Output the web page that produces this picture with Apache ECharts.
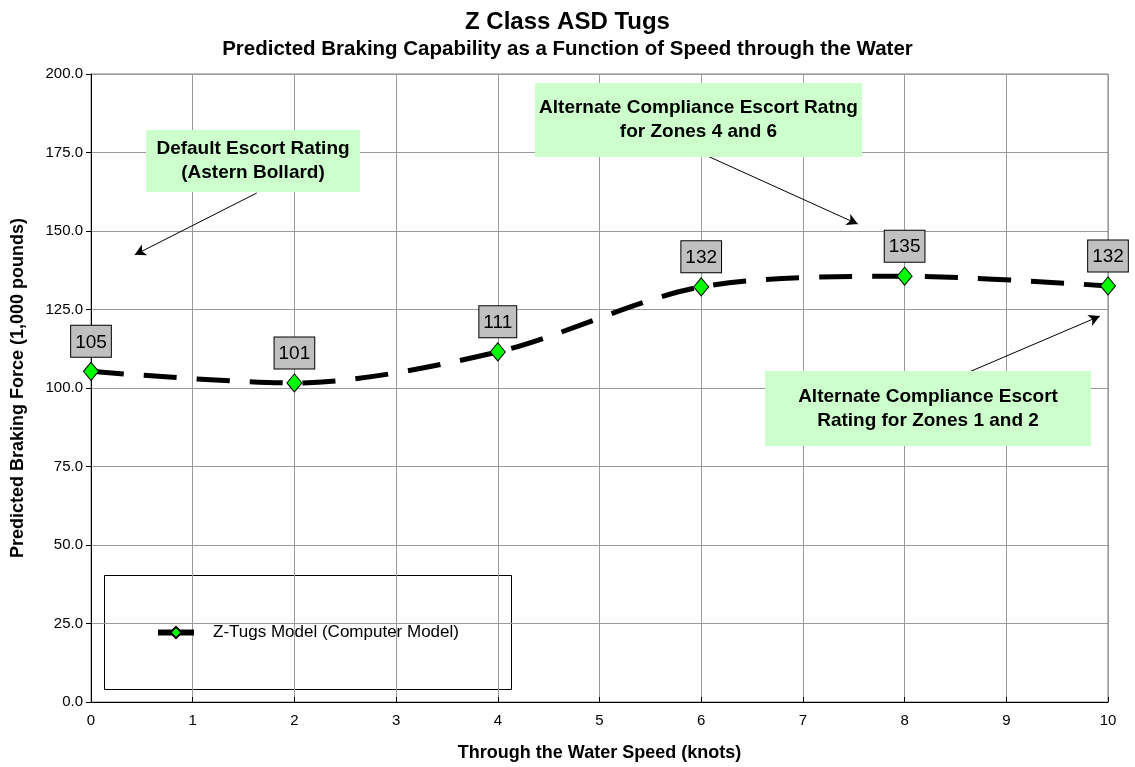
<!DOCTYPE html>
<html>
<head>
<meta charset="utf-8">
<script src="https://cdn.jsdelivr.net/npm/echarts@6/dist/echarts.min.js"></script>
<style>
  html, body { margin: 0; padding: 0; background: #fff; }
  #chart { width: 1135px; height: 767px; }
</style>
</head>
<body>
<div id="chart"></div>
<script>
// 数据
const speeds = [0, 2, 4, 6, 8, 10];
const brakingForce = [105.3, 101.6, 111.5, 132.2, 135.6, 132.5];
const pointLabels = ['105', '101', '111', '132', '135', '132'];
const yTicks = [0, 25, 50, 75, 100, 125, 150, 175, 200];
const seriesName = 'Z-Tugs Model (Computer Model)';

// 注释箭头 (数据坐标: 起点 -> 终点)
const arrows = [
    [[1.63, 162.1], [0.43, 142.4]],
    [[6.04, 174.2], [7.54, 152.2]],
    [[8.54, 103.8], [9.92, 122.9]]
];

const FONT = 'Liberation Sans, Arial, sans-serif';
const chart = echarts.init(document.getElementById('chart'));

// 绿色注释框
function noteBox(left, top, w, h, lines) {
    return {
        type: 'group',
        left: left, top: top, z: 100,
        children: [
            { type: 'rect', z: 100, shape: { x: 0, y: 0, width: w, height: h }, style: { fill: '#ccffcc' } },
            {
                type: 'text', z: 101, x: w / 2, y: h / 2,
                style: {
                    text: lines.join('\n'), fill: '#000', font: 'bold 19px ' + FONT,
                    align: 'center', verticalAlign: 'middle', lineHeight: 24
                }
            }
        ]
    };
}

const option = {
    animation: false,
    title: [
        { text: 'Z Class ASD Tugs', left: 'center', top: 5, textStyle: { fontFamily: FONT, fontSize: 24, fontWeight: 'bold', color: '#000' } },
        { text: 'Predicted Braking Capability as a Function of Speed through the Water', left: 'center', top: 34, textStyle: { fontFamily: FONT, fontSize: 20.5, fontWeight: 'bold', color: '#000' } }
    ],
    grid: { left: 91, right: 27, top: 74, bottom: 65, show: true, borderColor: '#808080', borderWidth: 1 },
    xAxis: {
        type: 'value', min: 0, max: 10, interval: 1,
        name: 'Through the Water Speed (knots)', nameLocation: 'middle', nameGap: 42,
        nameTextStyle: { fontFamily: FONT, fontSize: 18, fontWeight: 'bold', color: '#000' },
        axisLine: { lineStyle: { color: '#000' } },
        axisTick: { show: true, length: 5, inside: true, lineStyle: { color: '#000' } },
        axisLabel: { fontFamily: FONT, fontSize: 15, color: '#000', margin: 11 },
        splitLine: { lineStyle: { color: '#9a9a9a' } }
    },
    yAxis: {
        type: 'value', min: yTicks[0], max: yTicks[yTicks.length - 1], interval: 25,
        name: 'Predicted Braking Force (1,000 pounds)', nameLocation: 'middle', nameGap: 64,
        nameTextStyle: { fontFamily: FONT, fontSize: 18, fontWeight: 'bold', color: '#000' },
        axisLine: { show: true, lineStyle: { color: '#000' } },
        axisTick: { show: true, length: 5, lineStyle: { color: '#000' } },
        axisLabel: { fontFamily: FONT, fontSize: 15, color: '#000', formatter: v => v.toFixed(1) },
        splitLine: { lineStyle: { color: '#9a9a9a' } }
    },
    legend: {
        left: 150, top: 619, itemWidth: 36, itemHeight: 14, itemGap: 20,
        lineStyle: { width: 6, type: 'solid' },
        textStyle: { fontFamily: FONT, fontSize: 17, color: '#000', padding: [0, 0, 0, 14] },
        data: [{ name: seriesName }]
    },
    graphic: [
        { type: 'rect', left: 104, top: 575, shape: { width: 407, height: 114 }, style: { fill: '#fff', stroke: '#000', lineWidth: 1 }, z: 0 },
        noteBox(146, 130, 214, 62, ['Default Escort Rating', '(Astern Bollard)']),
        noteBox(535, 83, 327, 74, ['Alternate Compliance Escort Ratng', 'for Zones 4 and 6']),
        noteBox(765, 371, 326, 75, ['Alternate Compliance Escort', 'Rating for Zones 1 and 2'])
    ],
    series: [
        {
            name: seriesName, type: 'line', smooth: 0.3,
            data: speeds.map((s, i) => [s, brakingForce[i]]),
            symbol: 'diamond', symbolSize: [15, 18], clip: false,
            lineStyle: { color: '#000', width: 5, type: [33, 20] },
            itemStyle: { color: '#00ff00', borderColor: '#000', borderWidth: 1 },
            label: {
                show: true, position: 'top', distance: 5,
                formatter: p => pointLabels[p.dataIndex],
                fontFamily: FONT, fontSize: 19, color: '#000',
                backgroundColor: '#c0c0c0', borderColor: '#000', borderWidth: 1,
                padding: [7, 4, 5, 4]
            },
            markLine: {
                silent: true, symbol: ['none', 'arrow'], symbolSize: [9, 11],
                label: { show: false },
                lineStyle: { color: '#000', width: 1, type: 'solid' },
                data: arrows.map(a => [{ coord: a[0] }, { coord: a[1] }])
            },
            z: 3
        }
    ]
};

chart.setOption(option);
</script>
</body>
</html>
